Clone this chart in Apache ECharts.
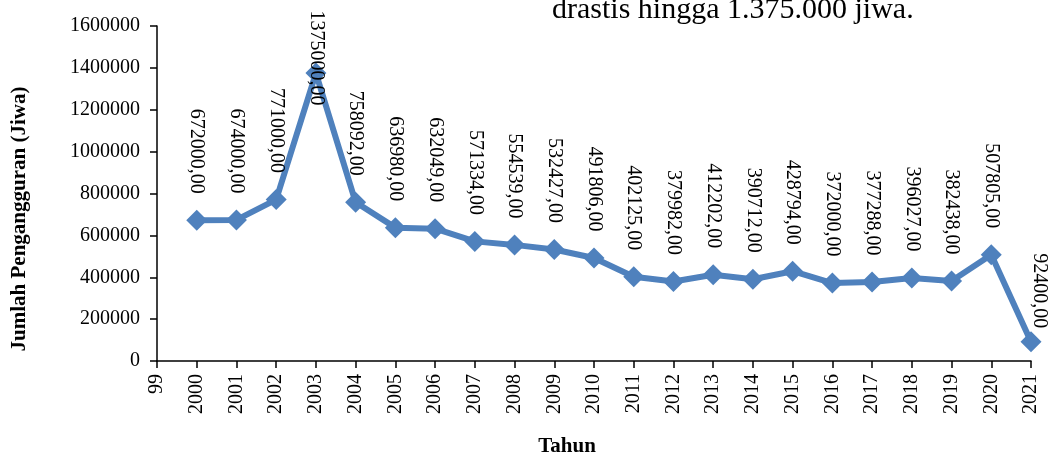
<!DOCTYPE html>
<html>
<head>
<meta charset="utf-8">
<script src="https://cdn.jsdelivr.net/npm/echarts@6/dist/echarts.min.js"></script>
<style>
  html, body { margin: 0; padding: 0; background: #fff; }
  #chart { width: 1049px; height: 456px; }
</style>
</head>
<body>
<div id="chart"></div>
<script>
// Tick labels along the year axis (first one is the partial "99")
const years = ['99', '2000', '2001', '2002', '2003', '2004', '2005', '2006', '2007', '2008', '2009',
  '2010', '2011', '2012', '2013', '2014', '2015', '2016', '2017', '2018', '2019', '2020', '2021'];

// Number of unemployed people (Jiwa) per year
const unemployed = [null, 672000, 674000, 771000, 1375000, 758092, 636980, 632049, 571334, 554539,
  532427, 491806, 402125, 379982, 412202, 390712, 428794, 372000, 377288, 396027, 382438, 507805, 92400];

const yTicks = { min: 0, max: 1600000, interval: 200000 };

const FONT = '"Liberation Serif", "Times New Roman", serif';
const BLUE = '#4F81BD';

function fmt(v) {
  return String(v) + ',00';
}

// Labels are rotated -90deg, so offset[0] moves them down and offset[1] moves them left
const seriesData = unemployed.map(function (v, i) {
  if (v === null) return '-';
  const item = { value: v };
  if (v === 1375000) {
    item.label = { offset: [59, 0] };
  } else if (i === unemployed.length - 1) {
    item.label = { offset: [13, -8] };
  }
  return item;
});

const chart = echarts.init(document.getElementById('chart'), null, { renderer: 'canvas' });
chart.setOption({
  animation: false,
  backgroundColor: '#fff',
  textStyle: { fontFamily: FONT, color: '#000' },
  grid: { left: 157, right: 18, top: 26, bottom: 95, containLabel: false },
  graphic: [
    {
      type: 'text', left: 552, top: -5,
      style: { text: 'drastis hingga 1.375.000 jiwa.', font: '30px ' + FONT, fill: '#000' }
    },
    {
      type: 'text', x: 20, y: 219, rotation: Math.PI / 2,
      style: {
        text: 'Jumlah Pengangguran (Jiwa)', font: 'bold 21px ' + FONT, fill: '#000',
        align: 'center', verticalAlign: 'middle'
      }
    },
    {
      type: 'text', x: 567, y: 447,
      style: {
        text: 'Tahun', font: 'bold 21px ' + FONT, fill: '#000',
        align: 'center', verticalAlign: 'middle'
      }
    }
  ],
  xAxis: {
    type: 'category',
    data: years,
    boundaryGap: false,
    axisLine: { lineStyle: { color: '#000', width: 1.5 } },
    axisTick: { alignWithLabel: true, length: 7, lineStyle: { color: '#000', width: 1.5 } },
    axisLabel: {
      rotate: 90, interval: 0, margin: 13,
      fontFamily: FONT, fontSize: 20, color: '#000'
    },
    splitLine: { show: false }
  },
  yAxis: {
    type: 'value',
    min: yTicks.min, max: yTicks.max, interval: yTicks.interval,
    axisLine: { show: true, lineStyle: { color: '#000', width: 1.5 } },
    axisTick: { show: true, length: 7, lineStyle: { color: '#000', width: 1.5 } },
    axisLabel: {
      margin: 17, fontFamily: FONT, fontSize: 20, color: '#000',
      formatter: function (v) { return String(v); }
    },
    splitLine: { show: false }
  },
  series: [{
    type: 'line',
    data: seriesData,
    symbol: 'diamond',
    symbolSize: 21,
    connectNulls: false,
    itemStyle: { color: BLUE },
    lineStyle: { color: BLUE, width: 6 },
    label: {
      show: true,
      position: 'top',
      distance: 16,
      rotate: -90,
      align: 'right',
      verticalAlign: 'middle',
      fontFamily: FONT,
      fontSize: 20,
      color: '#000',
      formatter: function (p) { return fmt(p.value); }
    },
    z: 3
  }]
});
</script>
</body>
</html>
